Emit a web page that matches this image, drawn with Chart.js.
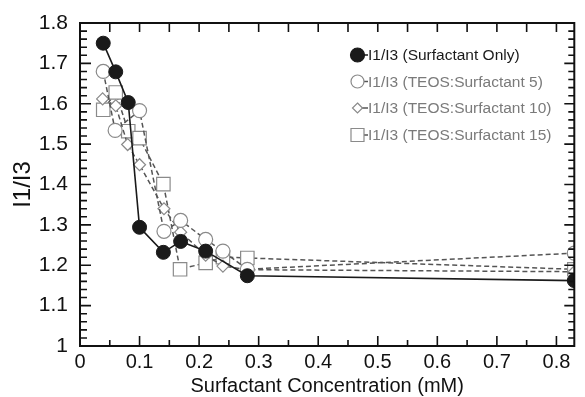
<!DOCTYPE html>
<html>
<head>
<meta charset="utf-8">
<script src="https://cdn.jsdelivr.net/npm/chart.js@4/dist/chart.umd.min.js"></script>
<style>
    html, body { margin: 0; padding: 0; background: #fff; }
    #wrap { width: 585px; height: 397px; }
</style>
</head>
<body>
<div id="wrap"><canvas id="pyreneChart"></canvas></div>
<script>
// I1/I3 ratio vs surfactant concentration
const seriesNames = [
    'I1/I3 (Surfactant Only)',
    'I1/I3 (TEOS:Surfactant 5)',
    'I1/I3 (TEOS:Surfactant 10)',
    'I1/I3 (TEOS:Surfactant 15)'
];

const xOnly = [0.039, 0.060, 0.081, 0.100, 0.140, 0.169, 0.211, 0.281, 0.83];
const yOnly = [1.750, 1.679, 1.603, 1.294, 1.232, 1.259, 1.235, 1.174, 1.162];

const xTeos5 = [0.039, 0.059, 0.100, 0.141, 0.169, 0.211, 0.240, 0.281, 0.83];
const yTeos5 = [1.680, 1.534, 1.583, 1.284, 1.311, 1.264, 1.235, 1.190, 1.230];

const xTeos10 = [0.038, 0.060, 0.080, 0.100, 0.141, 0.169, 0.211, 0.240, 0.281, 0.83];
const yTeos10 = [1.612, 1.595, 1.499, 1.449, 1.340, 1.282, 1.225, 1.198, 1.189, 1.184];

const xTeos15 = [0.039, 0.060, 0.081, 0.100, 0.140, 0.168, 0.211, 0.240, 0.281, 0.83];
const yTeos15 = [1.585, 1.628, 1.532, 1.515, 1.401, 1.190, 1.206, 1.220, 1.218, 1.190];

const xTicks = [0, 0.1, 0.2, 0.3, 0.4, 0.5, 0.6, 0.7, 0.8];
const yTicks = [1, 1.1, 1.2, 1.3, 1.4, 1.5, 1.6, 1.7, 1.8];

const FONT = '"Liberation Sans", Arial, sans-serif';

function toPoints(xs, ys) {
    return xs.map((x, i) => ({ x: x, y: ys[i] }));
}

function tickText(v) {
    return Number.isInteger(v) ? String(v) : v.toFixed(1);
}

// Box and inward tick marks on all four sides
const frameTicks = {
    id: 'frameTicks',
    afterDraw(chart) {
        const { ctx, chartArea: a, scales } = chart;
        const xs = scales.x, ys = scales.y;
        ctx.save();
        ctx.strokeStyle = '#111';
        ctx.lineWidth = 1.6;
        ctx.beginPath();
        for (let i = 0; i <= 40; i++) {
            const v = 1 + i * 0.02;
            const py = ys.getPixelForValue(v);
            const major = i % 5 === 0;
            ctx.moveTo(a.left, py);
            ctx.lineTo(a.left + (major ? 11 : 7), py);
            ctx.moveTo(a.right, py);
            ctx.lineTo(a.right - (major ? 10 : 6), py);
        }
        for (let i = 1; i * 0.05 < 0.83; i++) {
            const px = xs.getPixelForValue(i * 0.05);
            const major = i % 2 === 0;
            ctx.moveTo(px, a.bottom);
            ctx.lineTo(px, a.bottom - (major ? 10 : 6));
            ctx.moveTo(px, a.top);
            ctx.lineTo(px, a.top + 9);
        }
        ctx.stroke();
        ctx.lineWidth = 2;
        ctx.strokeRect(a.left, a.top, a.right - a.left, a.bottom - a.top);
        ctx.restore();
    }
};

function drawMarker(ctx, style, x, y, r) {
    ctx.beginPath();
    if (style === 'circle') {
        ctx.arc(x, y, r, 0, Math.PI * 2);
    } else if (style === 'rectRot') {
        ctx.moveTo(x, y - r); ctx.lineTo(x + r, y); ctx.lineTo(x, y + r); ctx.lineTo(x - r, y); ctx.closePath();
    } else {
        ctx.rect(x - r, y - r, 2 * r, 2 * r);
    }
    ctx.fill();
    ctx.stroke();
}

// Legend inside the plot, upper right
const insideLegend = {
    id: 'insideLegend',
    afterDraw(chart) {
        const ctx = chart.ctx;
        const rows = [55, 81.5, 108, 135];
        const sizes = [7, 6.5, 5, 6.5];
        ctx.save();
        ctx.font = '15.5px ' + FONT;
        ctx.textBaseline = 'middle';
        chart.data.datasets.forEach((ds, i) => {
            const y = rows[i];
            ctx.strokeStyle = ds.borderColor;
            ctx.lineWidth = 1.5;
            ctx.beginPath();
            ctx.moveTo(358, y); ctx.lineTo(368, y);
            ctx.stroke();
            ctx.fillStyle = ds.pointBackgroundColor;
            ctx.strokeStyle = ds.pointBorderColor;
            ctx.lineWidth = 1.2;
            drawMarker(ctx, ds.pointStyle, 357.5, y, sizes[i]);
            ctx.fillStyle = i === 0 ? '#1a1a1a' : '#7a7a7a';
            ctx.fillText(ds.label, 368, y + 1);
        });
        ctx.restore();
    }
};

const ctx = document.getElementById('pyreneChart').getContext('2d');
const pyreneChart = new Chart(ctx, {
    type: 'scatter',
    data: {
        datasets: [
            {
                label: seriesNames[0],
                data: toPoints(xOnly, yOnly),
                showLine: true,
                borderColor: '#1a1a1a',
                borderWidth: 1.6,
                pointStyle: 'circle',
                pointRadius: 7,
                pointBackgroundColor: '#1a1a1a',
                pointBorderColor: '#1a1a1a',
                pointBorderWidth: 1
            },
            {
                label: seriesNames[1],
                data: toPoints(xTeos5, yTeos5),
                showLine: true,
                borderColor: '#555',
                borderWidth: 1.5,
                borderDash: [5, 3],
                pointStyle: 'circle',
                pointRadius: 7,
                pointBackgroundColor: '#fff',
                pointBorderColor: '#8a8a8a',
                pointBorderWidth: 1.2
            },
            {
                label: seriesNames[2],
                data: toPoints(xTeos10, yTeos10),
                showLine: true,
                borderColor: '#555',
                borderWidth: 1.5,
                borderDash: [5, 3],
                pointStyle: 'rectRot',
                pointRadius: 6,
                pointBackgroundColor: '#fff',
                pointBorderColor: '#8a8a8a',
                pointBorderWidth: 1.2
            },
            {
                label: seriesNames[3],
                data: toPoints(xTeos15, yTeos15),
                showLine: true,
                borderColor: '#555',
                borderWidth: 1.5,
                borderDash: [5, 3],
                pointStyle: 'rect',
                pointRadius: 9.5,
                pointBackgroundColor: '#fff',
                pointBorderColor: '#8a8a8a',
                pointBorderWidth: 1.2
            }
        ]
    },
    options: {
        responsive: true,
        maintainAspectRatio: false,
        animation: false,
        clip: 0,
        layout: { padding: { top: 23, right: 5, left: 0, bottom: 0 } },
        plugins: {
            legend: { display: false },
            tooltip: { enabled: false }
        },
        scales: {
            x: {
                type: 'linear',
                min: 0,
                max: 0.83,
                grid: { display: false },
                border: { display: false },
                afterBuildTicks: s => { s.ticks = xTicks.map(v => ({ value: v })); },
                afterFit: s => { s.height = 51; },
                ticks: {
                    color: '#111',
                    padding: -4,
                    maxRotation: 0,
                    callback: v => tickText(v),
                    font: { family: FONT, size: 20 }
                },
                title: {
                    display: true,
                    text: 'Surfactant Concentration (mM)',
                    color: '#111',
                    padding: { top: 0, bottom: -1 },
                    font: { family: FONT, size: 20 }
                }
            },
            y: {
                type: 'linear',
                min: 1,
                max: 1.8,
                grid: { display: false },
                border: { display: false },
                afterBuildTicks: s => { s.ticks = yTicks.map(v => ({ value: v })); },
                afterFit: s => { s.width = 80; },
                ticks: {
                    color: '#111',
                    padding: 4,
                    callback: v => tickText(v),
                    font: { family: FONT, size: 21 }
                },
                title: {
                    display: true,
                    text: 'I1/I3',
                    color: '#111',
                    padding: { top: 9, bottom: 0 },
                    font: { family: FONT, size: 24 }
                }
            }
        }
    },
    plugins: [frameTicks, insideLegend]
});
</script>
</body>
</html>
